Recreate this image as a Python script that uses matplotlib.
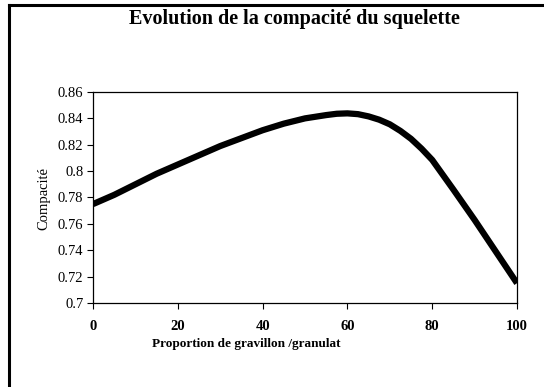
import matplotlib
matplotlib.use('Agg')
import matplotlib.pyplot as plt
from matplotlib.lines import Line2D

# proportion of gravel in the aggregate (%) and skeleton packing density
proportion = [0, 5, 10, 15, 20, 25, 30, 35, 40, 45, 50, 55, 57.5, 60, 62.5, 65, 67.5,
              70, 72.5, 75, 77.5, 80, 85, 90, 95, 100]
compacite = [0.775, 0.782, 0.790, 0.798, 0.805, 0.812, 0.819, 0.825, 0.831, 0.836, 0.840,
             0.8425, 0.8435, 0.8438, 0.8432, 0.8415, 0.8390, 0.8355, 0.8305, 0.8245,
             0.8170, 0.8085, 0.786, 0.763, 0.739, 0.715]

x_ticks = [0, 20, 40, 60, 80, 100]
y_ticks = [0.7, 0.72, 0.74, 0.76, 0.78, 0.8, 0.82, 0.84, 0.86]
y_labels = ['0.7', '0.72', '0.74', '0.76', '0.78', '0.8', '0.82', '0.84', '0.86']

plt.rcParams['font.family'] = ['Liberation Serif', 'DejaVu Serif']

W, H = 544, 387
fig = plt.figure(figsize=(W / 100, H / 100), dpi=100)
fig.patch.set_facecolor('white')

# outer chart frame (left and top edges)
fig.add_artist(Line2D([9 / W, 9 / W], [0, 1 - 5 / H], transform=fig.transFigure,
                      color='black', lw=2.2))
fig.add_artist(Line2D([9 / W, 1], [1 - 5 / H, 1 - 5 / H], transform=fig.transFigure,
                      color='black', lw=2.2))

ax = fig.add_axes([93 / W, 1 - 303 / H, (517 - 93) / W, (303 - 92) / H])
ax.plot(proportion, compacite, color='black', lw=4.5,
        solid_capstyle='butt', solid_joinstyle='round')

ax.set_xlim(0, 100)
ax.set_ylim(0.7, 0.86)
ax.set_xticks(x_ticks)
ax.set_yticks(y_ticks)
ax.set_yticklabels(y_labels)
ax.tick_params(direction='out', length=4, width=0.8, labelsize=10.5, pad=3)
ax.tick_params(axis='x', pad=8)
for s in ax.spines.values():
    s.set_linewidth(0.9)

for lab in ax.get_xticklabels():
    lab.set_fontweight('bold')

fig.text(294 / W, 1 - 19 / H, 'Evolution de la compacité du squelette',
         ha='center', va='center', fontsize=14.5, fontweight='bold')
fig.text(44 / W, 1 - 198 / H, 'Compacité', rotation=90,
         ha='center', va='center', fontsize=10.5)
fig.text(246 / W, 1 - 344 / H, 'Proportion de gravillon /granulat',
         ha='center', va='center', fontsize=9.5, fontweight='bold')

fig.savefig('out.png', dpi=100)
